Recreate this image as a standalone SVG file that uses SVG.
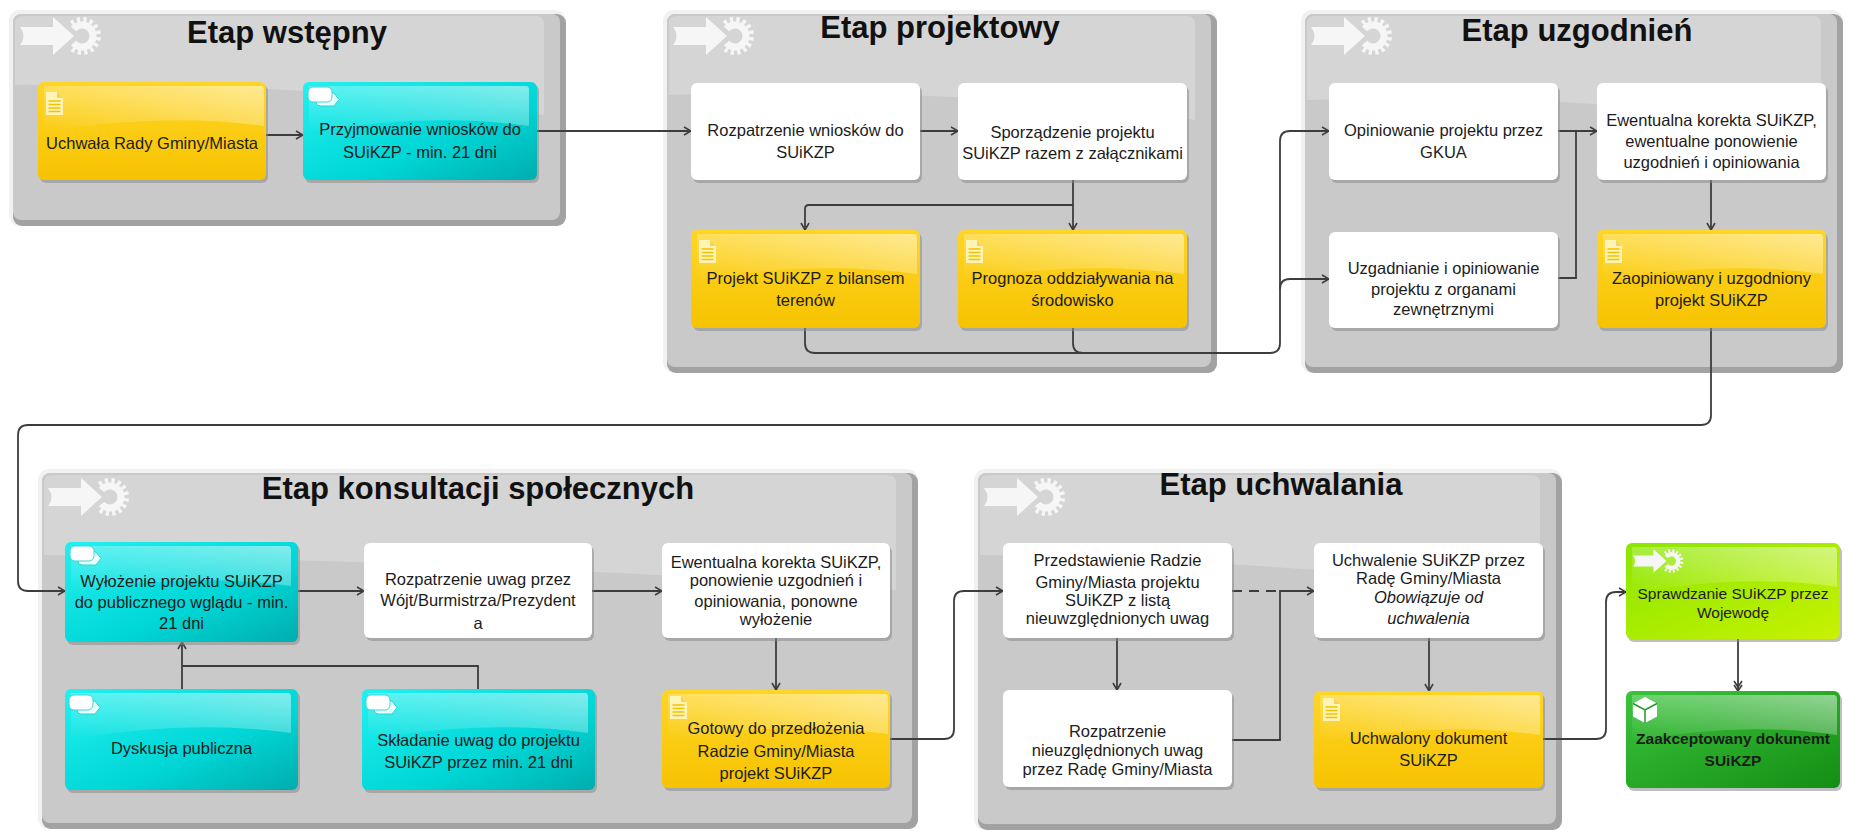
<svg xmlns="http://www.w3.org/2000/svg" width="1862" height="833" viewBox="0 0 1862 833">
<style>
.t{font-family:"Liberation Sans",Arial,sans-serif;font-size:16.5px;fill:#1c1c1c;text-anchor:middle}
.ts{font-size:15.5px}
.ti{font-style:italic}
.tb{font-weight:bold}
.title{font-family:"Liberation Sans",Arial,sans-serif;font-size:31px;font-weight:bold;fill:#111;text-anchor:middle}
.rim{fill:#f1f1f1}
.dk{fill:#a2a2a2}
.in{fill:#c9c9c9}
.sgl{fill:#ffffff;opacity:.22}
.sh{fill:#8a8a8a;opacity:.55}
.wh{fill:#ffffff}
.ye{fill:url(#gY)}
.cy{fill:url(#gC)}
.li{fill:url(#gL)}
.gr{fill:url(#gG)}
.c{fill:none;stroke:#3d3d3d;stroke-width:1.8}
.a{marker-end:url(#arr)}
.ico{fill:#f6f6f6}
</style>
<defs>
<linearGradient id="gY" x1="0" y1="0" x2="0" y2="1"><stop offset="0" stop-color="#ffd526"/><stop offset="1" stop-color="#f6c300"/></linearGradient>
<linearGradient id="gC" x1="0" y1="0" x2="1" y2="1"><stop offset="0" stop-color="#24f0f0"/><stop offset=".6" stop-color="#00d6d6"/><stop offset="1" stop-color="#00adad"/></linearGradient>
<linearGradient id="gL" x1="0" y1="0" x2="1" y2="1"><stop offset="0" stop-color="#8ae600"/><stop offset="1" stop-color="#c8f200"/></linearGradient>
<linearGradient id="gG" x1="0" y1="0" x2="1" y2="1"><stop offset="0" stop-color="#3cc43c"/><stop offset="1" stop-color="#138e13"/></linearGradient>
<linearGradient id="gGl" x1="0" y1="1" x2="1" y2="0"><stop offset="0" stop-color="#ffffff" stop-opacity="0"/><stop offset="1" stop-color="#ffffff" stop-opacity=".5"/></linearGradient>
<path id="gloss" d="M6,4 H223 Q226,4 226,8 V44 Q126,30 6,50 Z" fill="url(#gGl)"/>
<path id="gloss2" d="M6,4 H208 Q211,4 211,8 V44 Q118,30 6,50 Z" fill="url(#gGl)"/>
<g id="stageIcon" class="ico">
<path d="M0,12 H33 V2 L54,21 L33,40 V30 H0 Q7,21 0,12 Z"/>
<path d="M53.57,13.93 A11,11 0 1 1 53.57,28.07" fill="none" stroke="#f6f6f6" stroke-width="7"/>
<path d="M51.4,8.36 A16.5,16.5 0 1 1 51.4,33.64" fill="none" stroke="#f6f6f6" stroke-width="5" stroke-dasharray="3.2 3.2"/>
</g>
<g id="doc">
<path d="M0,0 H11 L17,6 V23 H0 Z" fill="#fff4b8"/>
<path d="M11,0 V6 H17" fill="#f3d35a"/>
<path d="M2.5,9 H14.5 M2.5,12.5 H14.5 M2.5,16 H14.5 M2.5,19.5 H14.5" stroke="#f2c200" stroke-width="1.6"/>
</g>
<g id="cards">
<path d="M8,6 H26 L31,12.5 L26,19 H12 Q8,19 8,15 Z" fill="#eaffff" stroke="#2cd2d2" stroke-width="1"/>
<rect x="0" y="0" width="24" height="15" rx="5" fill="#ffffff" stroke="#3cd6d6" stroke-width="1"/>
</g>
<g id="cube">
<path d="M13,0 L25,6.5 V19.5 L13,26 L1,19.5 V6.5 Z" fill="#ffffff"/>
<path d="M1,6.5 L13,13 L25,6.5 M13,13 V26" fill="none" stroke="#1f9a1f" stroke-width="1.5"/>
</g>
<marker id="arr" viewBox="0 0 10 10" refX="9" refY="5" markerWidth="10" markerHeight="10" markerUnits="userSpaceOnUse" orient="auto"><path d="M2,1 L9,5 L2,9" fill="none" stroke="#3d3d3d" stroke-width="1.6"/></marker>
<marker id="arr2" viewBox="0 0 12 10" refX="11" refY="5" markerWidth="12" markerHeight="10" markerUnits="userSpaceOnUse" orient="auto"><path d="M1,1 L7,5 L1,9 M5,1 L11,5 L5,9" fill="none" stroke="#3d3d3d" stroke-width="1.6"/></marker>
</defs>

<rect width="1862" height="833" fill="#ffffff"/>

<g id="stage-wstepny">
<rect class="rim" x="9" y="10" width="557" height="216" rx="11"/>
<rect class="dk" x="13" y="14" width="553" height="212" rx="9"/>
<rect class="in" x="13" y="14" width="547" height="206" rx="8"/>
<path class="sgl" d="M15,24 Q15,16 23,16 H536 Q544,16 544,24 V115 Q300,80 15,85 Z"/>
<use href="#stageIcon" transform="translate(20,15)"/>
<text class="title" x="287" y="43">Etap wstępny</text>
</g>

<g id="stage-projektowy">
<rect class="rim" x="663" y="10" width="554" height="363" rx="11"/>
<rect class="dk" x="667" y="14" width="550" height="359" rx="9"/>
<rect class="in" x="667" y="14" width="544" height="353" rx="8"/>
<path class="sgl" d="M669,24 Q669,16 677,16 H1187 Q1195,16 1195,24 V120 Q940,85 669,95 Z"/>
<use href="#stageIcon" transform="translate(673,15)"/>
<text class="title" x="940" y="38">Etap projektowy</text>
</g>

<g id="stage-uzgodnien">
<rect class="rim" x="1301" y="10" width="542" height="363" rx="11"/>
<rect class="dk" x="1305" y="14" width="538" height="359" rx="9"/>
<rect class="in" x="1305" y="14" width="532" height="353" rx="8"/>
<path class="sgl" d="M1307,24 Q1307,16 1315,16 H1813 Q1821,16 1821,24 V130 Q1577,90 1307,100 Z"/>
<use href="#stageIcon" transform="translate(1311,15)"/>
<text class="title" x="1577" y="41">Etap uzgodnień</text>
</g>

<g id="stage-konsultacji">
<rect class="rim" x="38" y="469" width="880" height="360" rx="11"/>
<rect class="dk" x="42" y="473" width="876" height="356" rx="9"/>
<rect class="in" x="42" y="473" width="870" height="350" rx="8"/>
<path class="sgl" d="M44,483 Q44,475 52,475 H888 Q896,475 896,483 V590 Q470,560 44,555 Z"/>
<use href="#stageIcon" transform="translate(48,476)"/>
<text class="title" x="478" y="499">Etap konsultacji społecznych</text>
</g>

<g id="stage-uchwalania">
<rect class="rim" x="974" y="469" width="588" height="361" rx="11"/>
<rect class="dk" x="978" y="473" width="584" height="357" rx="9"/>
<rect class="in" x="978" y="473" width="578" height="351" rx="8"/>
<path class="sgl" d="M980,483 Q980,475 988,475 H1532 Q1540,475 1540,483 V590 Q1268,560 980,555 Z"/>
<use href="#stageIcon" transform="translate(984,476)"/>
<text class="title" x="1281" y="495">Etap uchwalania</text>
</g>

<g id="connectors">
<path class="c a" d="M266,135 H303"/>
<path class="c a" d="M537,131 H691"/>
<path class="c a" d="M920,131 H958"/>
<path class="c a" d="M1073,180 V230"/>
<path class="c a" d="M1073,205 H809 Q805,205 805,209 V230"/>
<path class="c a" d="M805,328 V343 Q805,353 815,353 H1270 Q1280,353 1280,343 V141 Q1280,131 1290,131 H1329"/>
<path class="c" d="M1073,328 V343 Q1073,353 1083,353"/>
<path class="c a" d="M1280,289 Q1280,279 1290,279 H1329"/>
<path class="c a" d="M1558,131 H1597"/>
<path class="c" d="M1558,278 H1576 V131"/>
<path class="c a" d="M1711,180 V230"/>
<path class="c a" d="M1711,328 V415 Q1711,425 1701,425 H28 Q18,425 18,435 V581 Q18,591 28,591 H65"/>
<path class="c a" d="M298,591 H364"/>
<path class="c a" d="M592,591 H662"/>
<path class="c a" d="M776,638 V690"/>
<path class="c" d="M478,689 V666 H182"/>
<path class="c a" d="M182,689 V642"/>
<path class="c a" d="M890,739 H944 Q954,739 954,729 V601 Q954,591 964,591 H1003"/>
<path class="c a" d="M1117,638 V690"/>
<path class="c" d="M1232,591 H1280" stroke-dasharray="10 7"/>
<path class="c a" d="M1232,740 H1280 V591 H1314"/>
<path class="c a" d="M1429,638 V691"/>
<path class="c a" d="M1543,739 H1596 Q1606,739 1606,729 V602 Q1606,592 1616,592 H1626"/>
<path class="c" d="M1738,639 V691" marker-end="url(#arr2)"/>
</g>

<g id="n-uchwala" transform="translate(38,82)">
<rect class="sh" x="2" y="3" width="228" height="98" rx="6"/>
<rect class="ye" width="228" height="98" rx="6"/>
<use href="#gloss"/>
<use href="#doc" x="8" y="10"/>
<text class="t" x="114" y="67">Uchwała Rady Gminy/Miasta</text>
</g>

<g id="n-przyjmowanie" transform="translate(303,82)">
<rect class="sh" x="2" y="3" width="234" height="98" rx="6"/>
<rect class="cy" width="234" height="98" rx="6"/>
<use href="#gloss"/>
<use href="#cards" x="5" y="5"/>
<text class="t" x="117" y="53">Przyjmowanie wniosków do</text>
<text class="t" x="117" y="76">SUiKZP - min. 21 dni</text>
</g>

<g id="n-rozpatrzenie-wnioskow" transform="translate(691,83)">
<rect class="sh" x="2" y="3" width="229" height="97" rx="6"/>
<rect class="wh" width="229" height="97" rx="6"/>
<text class="t" x="114.5" y="53">Rozpatrzenie wniosków do</text>
<text class="t" x="114.5" y="75">SUiKZP</text>
</g>

<g id="n-sporzadzenie" transform="translate(958,83)">
<rect class="sh" x="2" y="3" width="229" height="97" rx="6"/>
<rect class="wh" width="229" height="97" rx="6"/>
<text class="t" x="114.5" y="55">Sporządzenie projektu</text>
<text class="t" x="114.5" y="76">SUiKZP razem z załącznikami</text>
</g>

<g id="n-projekt" transform="translate(691,230)">
<rect class="sh" x="2" y="3" width="229" height="98" rx="6"/>
<rect class="ye" width="229" height="98" rx="6"/>
<use href="#gloss"/>
<use href="#doc" x="8" y="10"/>
<text class="t" x="114.5" y="54">Projekt SUiKZP z bilansem</text>
<text class="t" x="114.5" y="76">terenów</text>
</g>

<g id="n-prognoza" transform="translate(958,230)">
<rect class="sh" x="2" y="3" width="229" height="98" rx="6"/>
<rect class="ye" width="229" height="98" rx="6"/>
<use href="#gloss"/>
<use href="#doc" x="8" y="10"/>
<text class="t" x="114.5" y="54">Prognoza oddziaływania na</text>
<text class="t" x="114.5" y="76">środowisko</text>
</g>

<g id="n-opiniowanie" transform="translate(1329,83)">
<rect class="sh" x="2" y="3" width="229" height="97" rx="6"/>
<rect class="wh" width="229" height="97" rx="6"/>
<text class="t" x="114.5" y="53">Opiniowanie projektu przez</text>
<text class="t" x="114.5" y="75">GKUA</text>
</g>

<g id="n-uzgadnianie" transform="translate(1329,232)">
<rect class="sh" x="2" y="3" width="229" height="96" rx="6"/>
<rect class="wh" width="229" height="96" rx="6"/>
<text class="t" x="114.5" y="42">Uzgadnianie i opiniowanie</text>
<text class="t" x="114.5" y="63">projektu z organami</text>
<text class="t" x="114.5" y="83">zewnętrznymi</text>
</g>

<g id="n-korekta-1" transform="translate(1597,83)">
<rect class="sh" x="2" y="3" width="229" height="97" rx="6"/>
<rect class="wh" width="229" height="97" rx="6"/>
<text class="t" x="114.5" y="43">Ewentualna korekta SUiKZP,</text>
<text class="t" x="114.5" y="64">ewentualne ponowienie</text>
<text class="t" x="114.5" y="85">uzgodnień i opiniowania</text>
</g>

<g id="n-zaopiniowany" transform="translate(1597,230)">
<rect class="sh" x="2" y="3" width="229" height="98" rx="6"/>
<rect class="ye" width="229" height="98" rx="6"/>
<use href="#gloss"/>
<use href="#doc" x="8" y="10"/>
<text class="t" x="114.5" y="54">Zaopiniowany i uzgodniony</text>
<text class="t" x="114.5" y="76">projekt SUiKZP</text>
</g>

<g id="n-wylozenie" transform="translate(65,542)">
<rect class="sh" x="2" y="3" width="233" height="100" rx="6"/>
<rect class="cy" width="233" height="100" rx="6"/>
<use href="#gloss"/>
<use href="#cards" x="5" y="4"/>
<text class="t" x="116.5" y="45">Wyłożenie projektu SUiKZP</text>
<text class="t" x="116.5" y="66">do publicznego wglądu - min.</text>
<text class="t" x="116.5" y="87">21 dni</text>
</g>

<g id="n-rozpatrzenie-uwag" transform="translate(364,543)">
<rect class="sh" x="2" y="3" width="228" height="95" rx="6"/>
<rect class="wh" width="228" height="95" rx="6"/>
<text class="t" x="114" y="42">Rozpatrzenie uwag przez</text>
<text class="t" x="114" y="63">Wójt/Burmistrza/Prezydent</text>
<text class="t" x="114" y="86">a</text>
</g>

<g id="n-korekta-2" transform="translate(662,543)">
<rect class="sh" x="2" y="3" width="228" height="95" rx="6"/>
<rect class="wh" width="228" height="95" rx="6"/>
<text class="t" x="114" y="25">Ewentualna korekta SUiKZP,</text>
<text class="t" x="114" y="43">ponowienie uzgodnień i</text>
<text class="t" x="114" y="64">opiniowania, ponowne</text>
<text class="t" x="114" y="82">wyłożenie</text>
</g>

<g id="n-dyskusja" transform="translate(65,689)">
<rect class="sh" x="2" y="3" width="233" height="101" rx="6"/>
<rect class="cy" width="233" height="101" rx="6"/>
<use href="#gloss"/>
<use href="#cards" x="4" y="6"/>
<text class="t" x="116.5" y="65">Dyskusja publiczna</text>
</g>

<g id="n-skladanie" transform="translate(362,689)">
<rect class="sh" x="2" y="3" width="233" height="101" rx="6"/>
<rect class="cy" width="233" height="101" rx="6"/>
<use href="#gloss"/>
<use href="#cards" x="4" y="6"/>
<text class="t" x="116.5" y="57">Składanie uwag do projektu</text>
<text class="t" x="116.5" y="79">SUiKZP przez min. 21 dni</text>
</g>

<g id="n-gotowy" transform="translate(662,690)">
<rect class="sh" x="2" y="3" width="228" height="98" rx="6"/>
<rect class="ye" width="228" height="98" rx="6"/>
<use href="#gloss"/>
<use href="#doc" x="8" y="6"/>
<text class="t" x="114" y="44">Gotowy do przedłożenia</text>
<text class="t" x="114" y="67">Radzie Gminy/Miasta</text>
<text class="t" x="114" y="89">projekt SUiKZP</text>
</g>

<g id="n-przedstawienie" transform="translate(1003,543)">
<rect class="sh" x="2" y="3" width="229" height="95" rx="6"/>
<rect class="wh" width="229" height="95" rx="6"/>
<text class="t" x="114.5" y="23">Przedstawienie Radzie</text>
<text class="t" x="114.5" y="45">Gminy/Miasta projektu</text>
<text class="t" x="114.5" y="63">SUiKZP z listą</text>
<text class="t" x="114.5" y="81">nieuwzględnionych uwag</text>
</g>

<g id="n-rozpatrzenie-nieuzglednionych" transform="translate(1003,690)">
<rect class="sh" x="2" y="3" width="229" height="97" rx="6"/>
<rect class="wh" width="229" height="97" rx="6"/>
<text class="t" x="114.5" y="47">Rozpatrzenie</text>
<text class="t" x="114.5" y="66">nieuzględnionych uwag</text>
<text class="t" x="114.5" y="85">przez Radę Gminy/Miasta</text>
</g>

<g id="n-uchwalenie" transform="translate(1314,543)">
<rect class="sh" x="2" y="3" width="229" height="95" rx="6"/>
<rect class="wh" width="229" height="95" rx="6"/>
<text class="t" x="114.5" y="23">Uchwalenie SUiKZP przez</text>
<text class="t" x="114.5" y="41">Radę Gminy/Miasta</text>
<text class="t ti" x="114.5" y="60">Obowiązuje od</text>
<text class="t ti" x="114.5" y="81">uchwalenia</text>
</g>

<g id="n-uchwalony" transform="translate(1314,691)">
<rect class="sh" x="2" y="3" width="229" height="97" rx="6"/>
<rect class="ye" width="229" height="97" rx="6"/>
<use href="#gloss"/>
<use href="#doc" x="9" y="7"/>
<text class="t" x="114.5" y="53">Uchwalony dokument</text>
<text class="t" x="114.5" y="75">SUiKZP</text>
</g>

<g id="n-sprawdzanie" transform="translate(1626,543)">
<rect class="sh" x="2" y="3" width="214" height="96" rx="6"/>
<rect class="li" width="214" height="96" rx="6"/>
<use href="#gloss2"/>
<use href="#stageIcon" transform="translate(7,5) scale(0.62)"/>
<text class="t ts" x="107" y="56">Sprawdzanie SUiKZP przez</text>
<text class="t ts" x="107" y="75">Wojewodę</text>
</g>

<g id="n-zaakceptowany" transform="translate(1626,691)">
<rect class="sh" x="2" y="3" width="214" height="97" rx="6"/>
<rect class="gr" width="214" height="97" rx="6"/>
<use href="#gloss2"/>
<use href="#cube" x="6" y="6"/>
<text class="t ts tb" x="107" y="53">Zaakceptowany dokunemt</text>
<text class="t ts tb" x="107" y="75">SUiKZP</text>
</g>
</svg>
